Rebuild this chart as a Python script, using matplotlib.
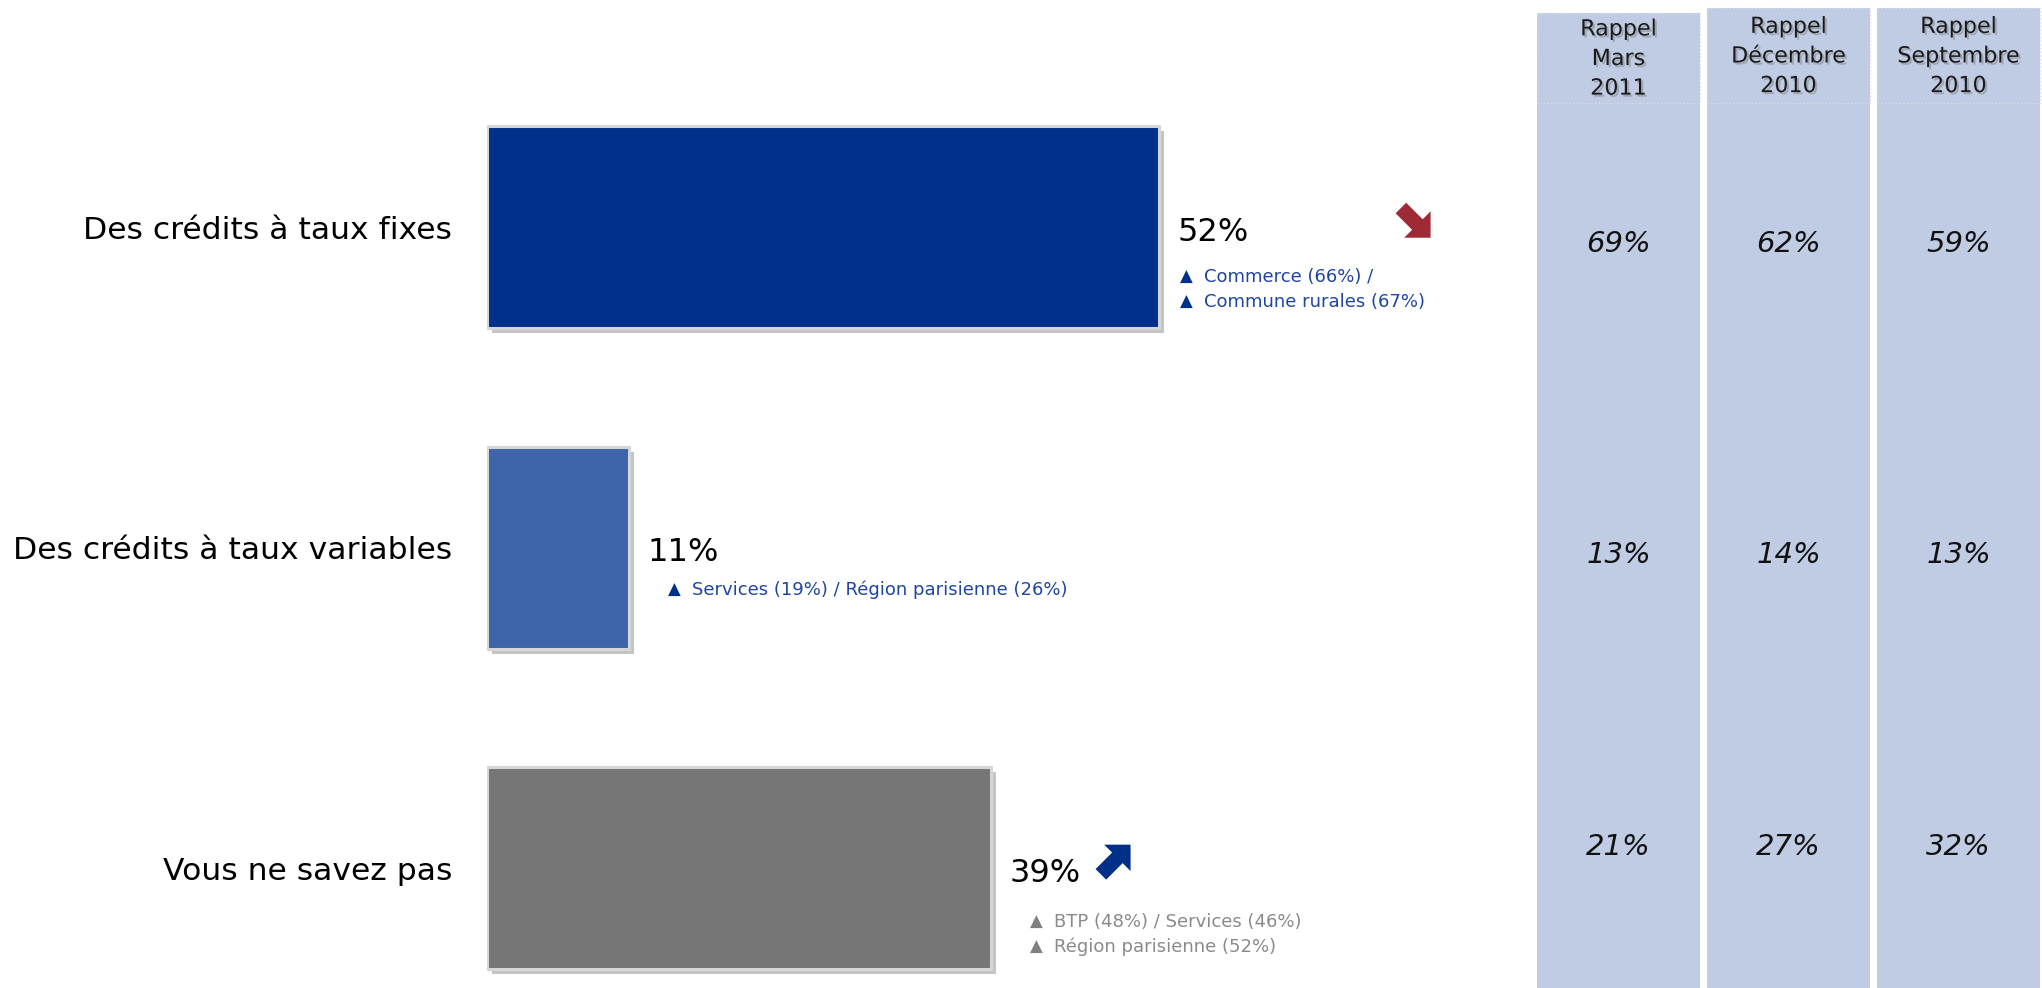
import matplotlib
matplotlib.use("Agg")
import matplotlib.pyplot as plt
import matplotlib.patheffects as pe
from matplotlib.transforms import Affine2D, ScaledTranslation, offset_copy
from matplotlib.patches import Polygon, Rectangle

plt.rcParams['font.family'] = ['DejaVu Sans']

# data
categories = ["Des crédits à taux fixes", "Des crédits à taux variables", "Vous ne savez pas"]
values = [52, 11, 39]
bar_colors = ["#00318A", "#3E65AA", "#767676"]
sub_lines = [["Commerce (66%) /", "Commune rurales (67%)"],
             ["Services (19%) / Région parisienne (26%)"],
             ["BTP (48%) / Services (46%)", "Région parisienne (52%)"]]
sub_colors = ["#1F45A0", "#1F45A0", "#8A8A8A"]
tri_colors = ["#00318A", "#00318A", "#808080"]
trends = ["down", None, "up"]

recall_headers = ["Rappel\nMars\n2011", "Rappel\nDécembre\n2010", "Rappel\nSeptembre\n2010"]
recall_mars_2011 = [69, 13, 21]
recall_dec_2010 = [62, 14, 27]
recall_sept_2010 = [59, 13, 32]

W, H = 2042, 988
fig = plt.figure(figsize=(W / 100, H / 100), dpi=100)

# main bar chart
ax = fig.add_axes([487 / W, 0, 1034 / W, 1 - 67 / H])
ax.set_xlim(0, 80)
ax.set_ylim(2.374, -0.5)
ypos = list(range(len(categories)))

# soft shadow behind the bars
shadow_tr = offset_copy(ax.transData, fig=fig, x=4.5, y=-5, units='dots')
ax.barh(ypos, values, height=0.63, color="#C4C4C4", transform=shadow_tr, zorder=1)
ax.barh(ypos, values, height=0.63, color=bar_colors, edgecolor="#D6D6D6", linewidth=2.2, zorder=2)

ax.set_yticks(ypos, categories, fontsize=22.6)
ax.tick_params(axis='y', length=0, pad=25)
ax.set_xticks([])
for s in ax.spines.values():
    s.set_visible(False)
ax.patch.set_alpha(0)

# value labels + details
sub_dx = [21, 39, 39]
sub_dy = [[-50, -75], [-42], [-54, -79]]
for i, v in enumerate(values):
    ax.annotate(f"{v}%", xy=(v, i), xytext=(13, -3.5), textcoords='offset points',
                va='center', ha='left', fontsize=23, color="black")
    for line, dy in zip(sub_lines[i], sub_dy[i]):
        ax.annotate("▲", xy=(v, i), xytext=(sub_dx[i] * 0.72, dy * 0.72), textcoords='offset points',
                    va='center', ha='left', fontsize=12, color=tri_colors[i])
        ax.annotate(line, xy=(v, i), xytext=((sub_dx[i] + 24) * 0.72, dy * 0.72),
                    textcoords='offset points', va='center', ha='left', fontsize=13,
                    color=sub_colors[i])

# trend arrows
arrow_up = [(1, 1), (1, 0.2), (0.76, 0.44), (0.26, -0.06), (-0.06, 0.26), (0.44, 0.76), (0.2, 1)]
arrow_down = [(x, 0.94 - y) for x, y in arrow_up]
arrow_pos = {0: (254, 7), 2: (122, 6)}
for i, t in enumerate(trends):
    if t is None:
        continue
    pts = arrow_up if t == "up" else arrow_down
    col = "#003087" if t == "up" else "#9E2A35"
    dx, dy = arrow_pos[i]
    tr = (Affine2D().translate(-0.47, -0.47).scale(33).translate(dx, dy)
          + ScaledTranslation(values[i], i, ax.transData))
    fig.add_artist(Polygon(pts, closed=True, facecolor=col, edgecolor='none', transform=tr))

# recall table on the right
ax2 = fig.add_axes([1533.5 / W, 0, 510 / W, 1])
ax2.set_xlim(-0.5, 2.5)
ax2.set_ylim(H, 0)
ax2.axis('off')
col_tops = [13, 8, 8]
header_bottom = 103
row_y = [244, 555, 847]
for j, (hdr, vals) in enumerate(zip(recall_headers, [recall_mars_2011, recall_dec_2010, recall_sept_2010])):
    ax2.add_patch(Rectangle((j - 0.4795, col_tops[j]), 0.959, H - col_tops[j],
                            facecolor="#C0CCE4", edgecolor='none'))
    ax2.add_patch(Rectangle((j - 0.4795, col_tops[j]), 0.959, header_bottom - col_tops[j],
                            facecolor='none', edgecolor="#DADDE3", linewidth=1, linestyle=':'))
    ax2.text(j, (col_tops[j] + header_bottom) / 2 + 1, hdr, ha='center', va='center',
             fontsize=16, linespacing=1.6, color="#1A1A1A",
             path_effects=[pe.SimplePatchShadow(offset=(1.5, -1.5), shadow_rgbFace='#777777', alpha=0.45),
                           pe.Normal()])
    for y, v in zip(row_y, vals):
        ax2.text(j, y, f"{v}%", ha='center', va='center', fontsize=21, style='italic', color="#111111")

fig.savefig("out.png", dpi=100)
